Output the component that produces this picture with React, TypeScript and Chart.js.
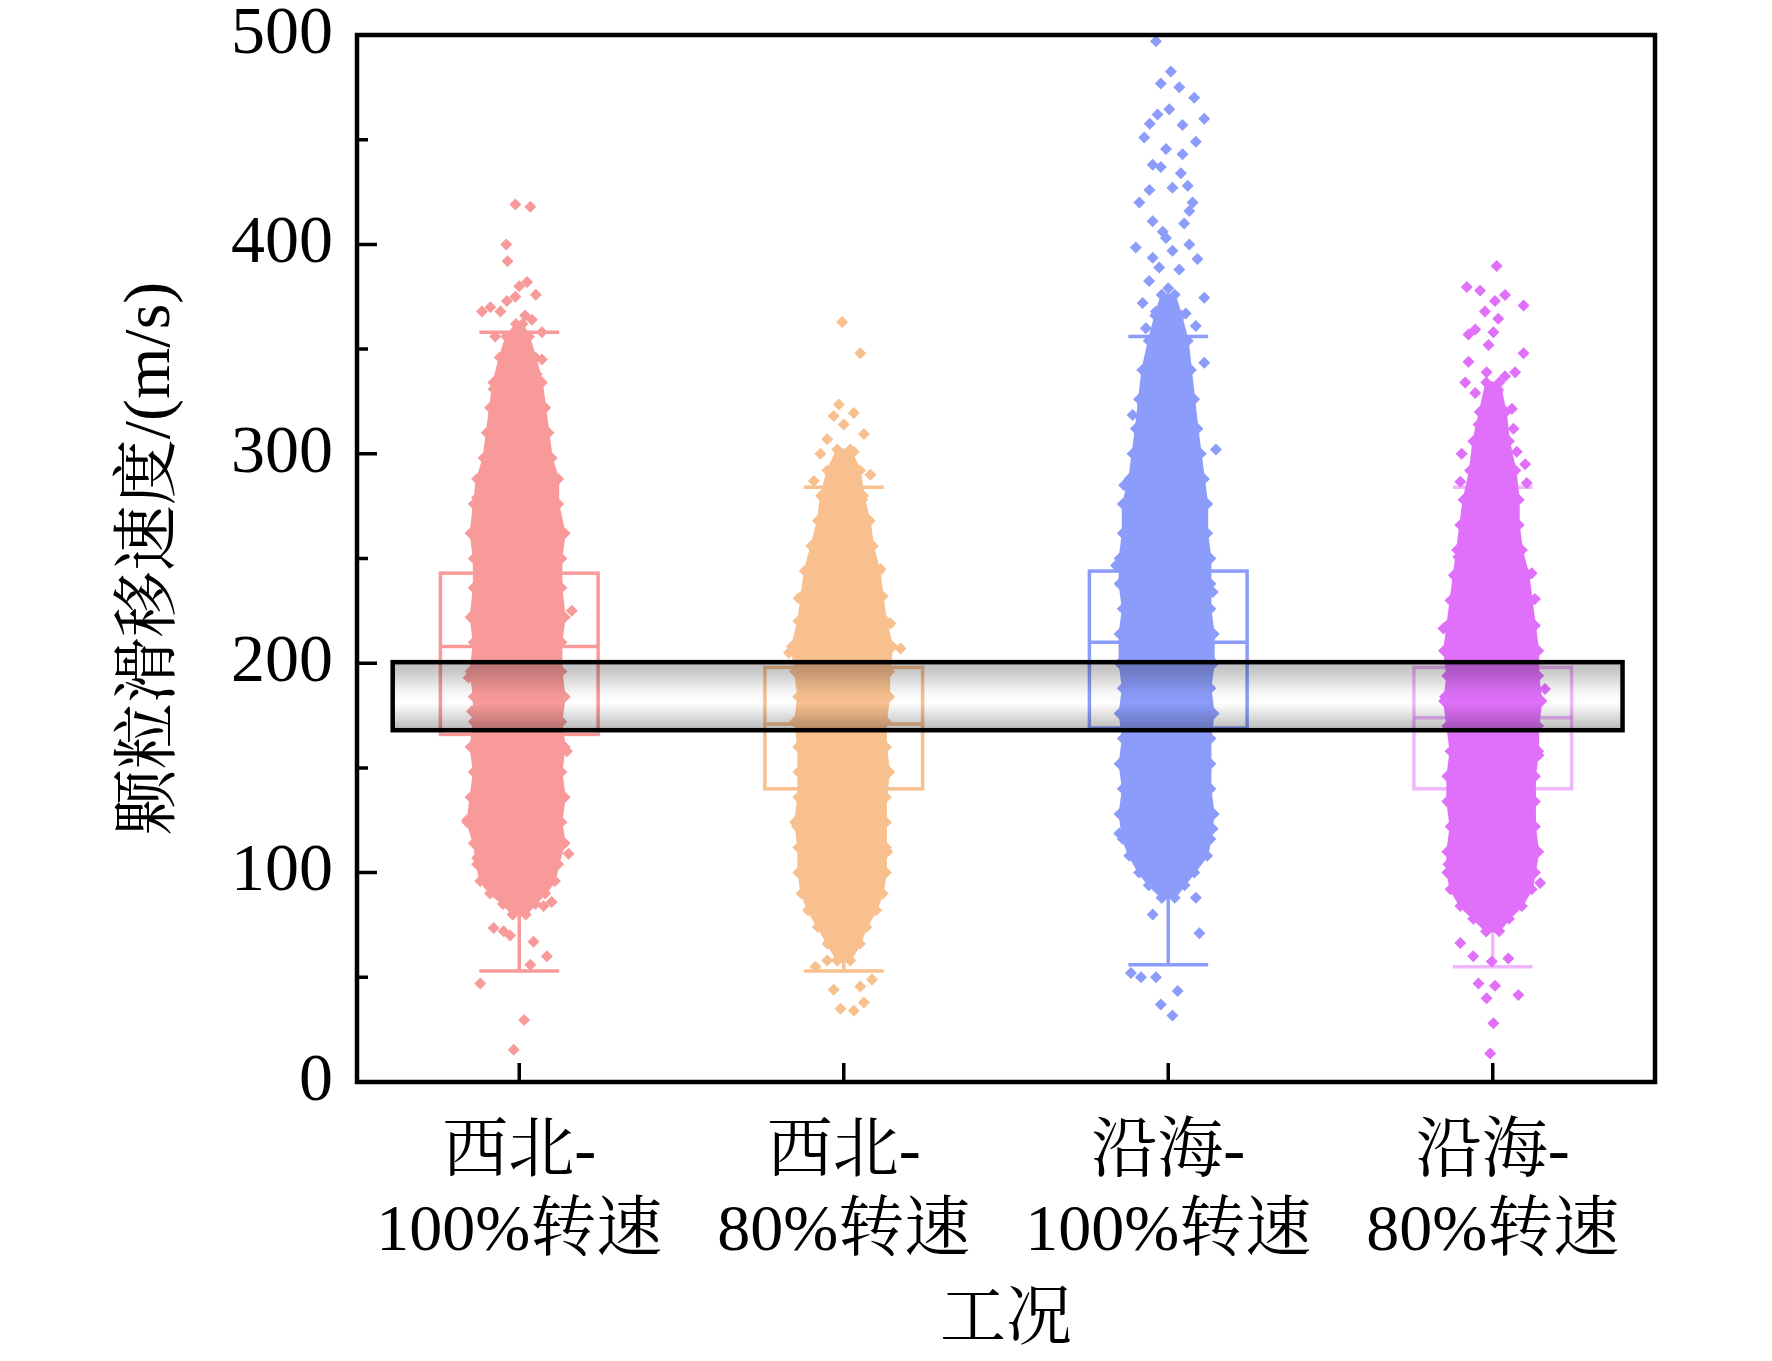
import { useEffect, useRef } from "react";
import { Chart, registerables } from "chart.js";
import type { ChartDataset, Plugin } from "chart.js";

Chart.register(...registerables);

// categories on the x axis (drawn at 1..4 on a linear scale)
const categoryLines = [
  ["西北-", "100%转速"],
  ["西北-", "80%转速"],
  ["沿海-", "100%转速"],
  ["沿海-", "80%转速"],
];
const categoryPos = [1, 2, 3, 4];

const pointColors = ["#F99A9A", "#F8C08F", "#8C9CFA", "#E070FA"];
const boxColors = [
  "rgba(249,154,154,1)",
  "rgba(248,192,143,1)",
  "rgba(140,156,250,1)",
  "rgba(224,112,250,0.5)",
];

// box plot statistics (m/s)
const q1 = [166, 140, 169, 140];
const median = [208, 171, 210, 174];
const q3 = [243, 198, 244, 198];
const whiskerLow = [53, 53, 56, 55];
const whiskerHigh = [358, 284, 356, 284];

// highlighted band
const bandRange = [168, 200.5];
const bandSpan = [0.61, 4.4];

// dense part of each jittered cloud: [value, left offset, right offset]
const cloud1 = [
  [80, -0.02, 0.02], [85, -0.05, 0.05], [90, -0.09, 0.08], [96, -0.12, 0.11],
  [104, -0.13, 0.12], [114, -0.14, 0.14], [124, -0.16, 0.13], [136, -0.15, 0.14],
  [148, -0.14, 0.13], [160, -0.15, 0.14], [172, -0.14, 0.13], [184, -0.14, 0.14],
  [196, -0.15, 0.13], [210, -0.14, 0.13], [222, -0.15, 0.14], [236, -0.14, 0.13],
  [250, -0.14, 0.13], [262, -0.15, 0.14], [276, -0.14, 0.12], [288, -0.13, 0.12],
  [298, -0.11, 0.1], [310, -0.1, 0.09], [322, -0.09, 0.08], [334, -0.08, 0.07],
  [346, -0.06, 0.05], [356, -0.04, 0.03], [362, -0.01, 0.01],
];
const cloud2 = [
  [58, -0.02, 0.02], [66, -0.05, 0.05], [74, -0.08, 0.07], [82, -0.11, 0.1],
  [90, -0.13, 0.12], [100, -0.14, 0.13], [112, -0.14, 0.13], [124, -0.15, 0.13],
  [136, -0.14, 0.13], [148, -0.14, 0.14], [160, -0.14, 0.13], [172, -0.15, 0.13],
  [184, -0.14, 0.14], [196, -0.15, 0.14], [208, -0.16, 0.15], [220, -0.14, 0.13],
  [232, -0.13, 0.12], [244, -0.12, 0.11], [256, -0.1, 0.09], [268, -0.08, 0.08],
  [280, -0.07, 0.06], [292, -0.05, 0.05], [302, -0.02, 0.02],
];
const cloud3 = [
  [88, -0.02, 0.02], [94, -0.06, 0.05], [100, -0.09, 0.08], [108, -0.12, 0.12],
  [116, -0.14, 0.13], [128, -0.15, 0.14], [140, -0.14, 0.13], [152, -0.15, 0.13],
  [164, -0.14, 0.13], [176, -0.15, 0.14], [188, -0.14, 0.13], [200, -0.15, 0.14],
  [214, -0.15, 0.14], [226, -0.14, 0.13], [238, -0.15, 0.13], [250, -0.15, 0.13],
  [262, -0.14, 0.12], [276, -0.14, 0.12], [288, -0.12, 0.11], [300, -0.11, 0.1],
  [312, -0.1, 0.09], [326, -0.09, 0.08], [340, -0.08, 0.07], [354, -0.06, 0.06],
  [366, -0.04, 0.04], [376, -0.02, 0.02],
];
const cloud4 = [
  [72, -0.02, 0.02], [78, -0.06, 0.05], [84, -0.1, 0.09], [92, -0.13, 0.12],
  [100, -0.14, 0.13], [110, -0.14, 0.14], [122, -0.13, 0.13], [134, -0.14, 0.13],
  [146, -0.14, 0.13], [158, -0.13, 0.14], [170, -0.14, 0.14], [182, -0.15, 0.15],
  [194, -0.14, 0.14], [206, -0.15, 0.14], [218, -0.14, 0.13], [230, -0.13, 0.12],
  [242, -0.12, 0.11], [254, -0.11, 0.09], [266, -0.1, 0.08], [278, -0.09, 0.08],
  [292, -0.07, 0.07], [306, -0.06, 0.05], [320, -0.04, 0.04], [334, -0.02, 0.02],
];

// scattered points outside the dense part: [offset, value]
const sparse1 = [
  [-0.012, 419], [0.034, 418], [-0.04, 400], [-0.036, 392], [0.024, 382], [0, 380],
  [0.051, 376], [-0.012, 375], [-0.038, 373], [-0.089, 370], [-0.115, 368], [-0.058, 368],
  [0.018, 366], [0.039, 364], [0.07, 358], [-0.074, 356], [0.07, 345], [-0.079, 331],
  [0.054, 338], [-0.069, 320], [0.065, 316], [-0.089, 304], [-0.12, 285], [-0.13, 279],
  [0.162, 225], [-0.156, 193], [-0.146, 177], [0.147, 158], [-0.161, 125], [0.152, 109],
  [-0.13, 107], [0.1, 86], [0.075, 84], [-0.079, 73.5], [-0.048, 72], [-0.028, 70],
  [0.044, 67], [0.085, 60], [0.034, 56], [-0.12, 47], [0.015, 29.6], [-0.017, 15.4],
];
const sparse2 = [
  [-0.005, 363], [0.051, 348], [-0.015, 323.5], [0.031, 319.5], [-0.031, 318], [0, 314],
  [0.062, 309.5], [-0.051, 307], [-0.072, 300], [0.031, 301], [0.082, 290], [-0.092, 287],
  [0.057, 278], [-0.077, 259], [0.113, 245], [-0.139, 231], [0.144, 219], [-0.169, 205],
  [0.175, 207], [-0.144, 122], [0.134, 110], [0.072, 79], [-0.087, 55], [-0.051, 58],
  [0.051, 45.6], [0.087, 49], [-0.031, 44], [-0.01, 35], [0.031, 34], [0.062, 38],
];
const sparse3 = [
  [-0.038, 497], [0.008, 482.6], [-0.023, 476.8], [0.034, 475], [0.08, 470], [0.003, 464.6],
  [-0.033, 462], [0.111, 460], [-0.057, 457.6], [0.044, 457], [-0.007, 445.5], [0.044, 443],
  [-0.023, 437], [0.039, 434], [0.013, 427], [-0.058, 426], [0.06, 428], [-0.089, 420],
  [0.075, 420], [-0.048, 411], [0.049, 410], [-0.1, 398.5], [-0.007, 403], [0.065, 400],
  [-0.048, 393.6], [0.09, 393], [-0.059, 382.5], [0.111, 374.5], [-0.079, 372], [-0.11, 318.5],
  [0.111, 343.5], [0.147, 302], [-0.136, 285], [-0.161, 246.6], [0.137, 234], [-0.151, 118.7],
  [0.137, 121], [0.085, 88], [-0.048, 80], [0.096, 71], [-0.115, 52], [-0.084, 50],
  [-0.038, 50], [0.029, 43.5], [-0.023, 37], [0.013, 31.7], [-0.074, 451], [0.085, 449],
  [-0.048, 438], [0.065, 416], [-0.017, 406], [0.013, 397], [-0.028, 389], [0.034, 388],
  [0, 379], [-0.038, 368], [0.054, 367], [-0.069, 360], [0.085, 361], [0, 357],
];
const sparse4 = [
  [0.012, 389.7], [-0.08, 379.6], [-0.039, 378], [0.038, 375.8], [0.007, 373], [0.095, 370.8],
  [-0.024, 368], [0.017, 364.5], [-0.054, 359.4], [-0.075, 357], [0.002, 358], [-0.013, 352],
  [0.095, 348], [-0.075, 344], [-0.019, 339], [0.069, 339], [0.038, 337], [-0.085, 334],
  [0.017, 330.5], [-0.054, 329], [0.059, 321.5], [-0.044, 314], [0.064, 312], [-0.096, 300],
  [0.074, 301], [0.1, 295], [-0.1, 286.6], [0.105, 286], [-0.106, 250.7], [0.12, 243],
  [0.13, 230.6], [-0.152, 216.6], [0.161, 187.7], [-0.147, 184], [0.141, 156], [-0.137, 104],
  [0.146, 95], [-0.1, 66.4], [-0.06, 60], [-0.003, 57.5], [0.048, 59], [-0.044, 47],
  [0.007, 46], [0.079, 41.5], [-0.019, 40], [0.002, 28], [-0.008, 13.6],
];

const clouds = [cloud1, cloud2, cloud3, cloud4];
const sparse = [sparse1, sparse2, sparse3, sparse4];

const yMajor = [0, 100, 200, 300, 400, 500];
const yMinor = [50, 150, 250, 350, 450];

const FONT = "'Liberation Serif', 'Times New Roman', 'Noto Serif CJK SC', 'Noto Sans CJK SC', serif";

function cloudPolygon(center: number, rows: number[][]) {
  const left = rows.map(([v, l]) => ({ x: center + l, y: v }));
  const right = [...rows].reverse().map(([v, , r]) => ({ x: center + r, y: v }));
  return [...left, ...right, left[0]];
}

const whiteBg: Plugin = {
  id: "whiteBg",
  beforeDraw(chart) {
    const { ctx, width, height } = chart;
    ctx.save();
    ctx.fillStyle = "#ffffff";
    ctx.fillRect(0, 0, width, height);
    ctx.restore();
  },
};

const boxPlugin: Plugin = {
  id: "boxes",
  beforeDatasetsDraw(chart) {
    const { ctx } = chart;
    const x = chart.scales.x;
    const y = chart.scales.y;
    ctx.save();
    ctx.lineWidth = 3.5;
    categoryPos.forEach((c, i) => {
      ctx.strokeStyle = boxColors[i];
      const xl = x.getPixelForValue(c - 0.243);
      const xr = x.getPixelForValue(c + 0.243);
      const cl = x.getPixelForValue(c - 0.123);
      const cr = x.getPixelForValue(c + 0.123);
      const xc = x.getPixelForValue(c);
      const yTop = y.getPixelForValue(q3[i]);
      const yBot = y.getPixelForValue(q1[i]);
      ctx.strokeRect(xl, yTop, xr - xl, yBot - yTop);
      ctx.beginPath();
      ctx.moveTo(xl, y.getPixelForValue(median[i]));
      ctx.lineTo(xr, y.getPixelForValue(median[i]));
      ctx.moveTo(xc, yTop);
      ctx.lineTo(xc, y.getPixelForValue(whiskerHigh[i]));
      ctx.moveTo(xc, yBot);
      ctx.lineTo(xc, y.getPixelForValue(whiskerLow[i]));
      ctx.moveTo(cl, y.getPixelForValue(whiskerHigh[i]));
      ctx.lineTo(cr, y.getPixelForValue(whiskerHigh[i]));
      ctx.moveTo(cl, y.getPixelForValue(whiskerLow[i]));
      ctx.lineTo(cr, y.getPixelForValue(whiskerLow[i]));
      ctx.stroke();
    });
    ctx.restore();
  },
};

const bandPlugin: Plugin = {
  id: "band",
  afterDatasetsDraw(chart) {
    const { ctx } = chart;
    const x = chart.scales.x;
    const y = chart.scales.y;
    const x0 = x.getPixelForValue(bandSpan[0]);
    const x1 = x.getPixelForValue(bandSpan[1]);
    const y0 = y.getPixelForValue(bandRange[1]);
    const y1 = y.getPixelForValue(bandRange[0]);
    ctx.save();
    const g = ctx.createLinearGradient(0, y0, 0, y1);
    g.addColorStop(0, "#c0c0c0");
    g.addColorStop(0.15, "#cbcbcb");
    g.addColorStop(0.45, "#f7f7f7");
    g.addColorStop(0.6, "#ffffff");
    g.addColorStop(0.85, "#d4d4d4");
    g.addColorStop(1, "#b8b8b8");
    ctx.globalCompositeOperation = "multiply";
    ctx.fillStyle = g;
    ctx.fillRect(x0, y0, x1 - x0, y1 - y0);
    ctx.globalCompositeOperation = "source-over";
    ctx.lineWidth = 4.5;
    ctx.strokeStyle = "#000000";
    ctx.strokeRect(x0, y0, x1 - x0, y1 - y0);
    ctx.restore();
  },
};

const framePlugin: Plugin = {
  id: "frame",
  afterDraw(chart) {
    const { ctx, chartArea } = chart;
    const x = chart.scales.x;
    const y = chart.scales.y;
    ctx.save();
    ctx.strokeStyle = "#000000";
    ctx.lineWidth = 3.5;
    ctx.beginPath();
    yMajor.forEach((v) => {
      const p = y.getPixelForValue(v);
      ctx.moveTo(chartArea.left, p);
      ctx.lineTo(chartArea.left + 20, p);
    });
    yMinor.forEach((v) => {
      const p = y.getPixelForValue(v);
      ctx.moveTo(chartArea.left, p);
      ctx.lineTo(chartArea.left + 11, p);
    });
    categoryPos.forEach((c) => {
      const p = x.getPixelForValue(c);
      ctx.moveTo(p, chartArea.bottom);
      ctx.lineTo(p, chartArea.bottom - 19);
    });
    ctx.stroke();
    ctx.lineWidth = 4.5;
    ctx.strokeRect(
      chartArea.left,
      chartArea.top,
      chartArea.right - chartArea.left,
      chartArea.bottom - chartArea.top
    );
    ctx.restore();
  },
};

export default function App() {
  const canvasRef = useRef<HTMLCanvasElement | null>(null);

  useEffect(() => {
    document.body.style.margin = "0";
    if (!canvasRef.current) return;

    const datasets: ChartDataset<"line" | "scatter", { x: number; y: number }[]>[] = [];
    categoryPos.forEach((c, i) => {
      datasets.push({
        type: "line",
        data: cloudPolygon(c, clouds[i]),
        borderColor: pointColors[i],
        backgroundColor: pointColors[i],
        borderWidth: 2,
        fill: "shape",
        tension: 0,
        pointStyle: "rectRot",
        pointRadius: 6,
        pointBorderWidth: 0,
        pointBackgroundColor: pointColors[i],
      } as ChartDataset<"line", { x: number; y: number }[]>);
      datasets.push({
        type: "scatter",
        data: sparse[i].map(([dx, v]) => ({ x: c + dx, y: v })),
        pointStyle: "rectRot",
        pointRadius: 6,
        pointBorderWidth: 0,
        backgroundColor: pointColors[i],
        pointBackgroundColor: pointColors[i],
      } as ChartDataset<"scatter", { x: number; y: number }[]>);
    });

    const chart = new Chart(canvasRef.current, {
      type: "scatter",
      data: { datasets: datasets as any },
      plugins: [whiteBg, boxPlugin, bandPlugin, framePlugin],
      options: {
        animation: false,
        responsive: true,
        maintainAspectRatio: false,
        events: [],
        layout: { padding: { left: 0, right: 117, top: 35, bottom: 0 } },
        plugins: {
          legend: { display: false },
          tooltip: { enabled: false },
        },
        scales: {
          x: {
            type: "linear",
            min: 0.5,
            max: 4.5,
            grid: { display: false },
            border: { display: false },
            afterBuildTicks: (scale) => {
              scale.ticks = categoryPos.map((v) => ({ value: v }));
            },
            afterFit: (scale) => {
              scale.height = 279;
              scale.paddingLeft = 0;
              scale.paddingRight = 0;
            },
            ticks: {
              color: "#000000",
              padding: 24,
              maxRotation: 0,
              autoSkip: false,
              font: { family: FONT, size: 66, lineHeight: 1.2 },
              callback: (value) => categoryLines[Number(value) - 1] ?? "",
            },
            title: {
              display: true,
              text: "工况",
              color: "#000000",
              padding: { top: 0, bottom: 0 },
              font: { family: FONT, size: 66, lineHeight: 1.2 },
            },
          },
          y: {
            type: "linear",
            min: 0,
            max: 500,
            grid: { display: false },
            border: { display: false },
            afterFit: (scale) => {
              scale.width = 357;
              scale.paddingTop = 0;
              scale.paddingBottom = 0;
            },
            ticks: {
              stepSize: 100,
              color: "#000000",
              padding: 16,
              font: { family: FONT, size: 68 },
            },
            title: {
              display: true,
              text: "颗粒滑移速度/(m/s)",
              color: "#000000",
              padding: { top: 112, bottom: 0 },
              font: { family: FONT, size: 66, lineHeight: 1.2 },
            },
          },
        },
      },
    });

    return () => {
      chart.destroy();
    };
  }, []);

  return (
    <div style={{ position: "relative", width: "1772px", height: "1361px" }}>
      <canvas ref={canvasRef} />
    </div>
  );
}
